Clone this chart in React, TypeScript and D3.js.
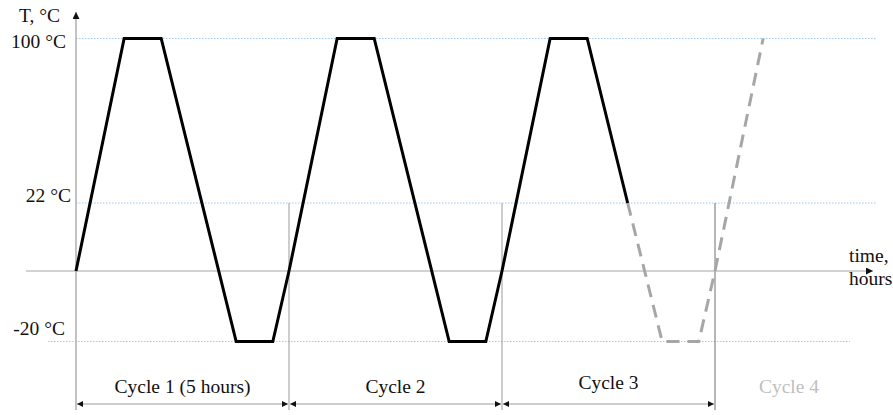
import * as d3 from "d3";

// cycle profile (time in hours, temperature in °C)
const cycleLabels = ["Cycle 1 (5 hours)", "Cycle 2", "Cycle 3", "Cycle 4"];
const cycleStarts = [0, 5, 10, 15];
const cycleLength = 5;

const solidTime = [0, 1.13, 2, 3.76, 4.62, 5, 6.13, 7, 8.76, 9.62, 10, 11.13, 12, 12.95];
const solidTemp = [0, 100, 100, -20, -20, 0, 100, 100, -20, -20, 0, 100, 100, 22];

const dashTime = [12.95, 13.76, 14.62, 15, 16.13];
const dashTemp = [22, -20, -20, 0, 100];

const levelTemps = [100, 22, -20];
const levelLabels = ["100 °C", "22 °C", "-20 °C"];

const W = 893;
const H = 415;
const FONT = "'Liberation Serif', 'Times New Roman', serif";

export default function App() {
	const x = d3.scaleLinear().domain([0, 20]).range([76, 76 + 42.6 * 20]);
	// schematic, piecewise scale
	const y = d3.scaleLinear().domain([-20, 0, 22, 100]).range([341.5, 271, 203, 38.5]);

	const line = d3
		.line<[number, number]>()
		.x((d) => x(d[0]))
		.y((d) => y(d[1]));

	const solid = solidTime.map((t, i) => [t, solidTemp[i]] as [number, number]);
	const dashed = dashTime.map((t, i) => [t, dashTemp[i]] as [number, number]);

	const axisX = x(0);
	const axisY = y(0);
	const arrowY = 404;
	const bottom = 410;

	const gridExtent: Record<number, [number, number]> = {
		100: [axisX, 877],
		22: [axisX, 877],
		[-20]: [48, 850],
	};
	const labelY: Record<number, number> = { 100: 48, 22: 202, [-20]: 335 };
	const labelX: Record<number, number> = { 100: 66, 22: 71, [-20]: 65 };

	return (
		<div style={{ position: "absolute", left: 0, top: 0 }}>
			<svg width={W} height={H} style={{ display: "block", background: "#fff" }}>
				<defs>
					<marker
						id="dim-arrow"
						viewBox="0 0 10 10"
						refX="10"
						refY="5"
						markerWidth="8"
						markerHeight="6"
						markerUnits="userSpaceOnUse"
						orient="auto-start-reverse"
					>
						<path d="M0,0 L10,5 L0,10 Z" fill="#111" />
					</marker>
					<marker
						id="axis-arrow"
						viewBox="0 0 10 10"
						refX="10"
						refY="5"
						markerWidth="9"
						markerHeight="7"
						markerUnits="userSpaceOnUse"
						orient="auto"
					>
						<path d="M0,0 L10,5 L0,10 Z" fill="#111" />
					</marker>
				</defs>

				{/* level lines */}
				{levelTemps.map((t) => (
					<line
						key={`grid-${t}`}
						x1={gridExtent[t][0]}
						x2={gridExtent[t][1]}
						y1={y(t)}
						y2={y(t)}
						stroke="#9ec8ef"
						strokeWidth={1}
						strokeDasharray="1.5,1.5"
					/>
				))}

				{/* cycle boundaries */}
				{cycleStarts.slice(1).map((s) => (
					<line
						key={`bound-${s}`}
						x1={x(s)}
						x2={x(s)}
						y1={y(22)}
						y2={bottom}
						stroke={s === 15 ? "#6e6e6e" : "#9a9a9a"}
						strokeWidth={1}
					/>
				))}

				{/* axes */}
				<line x1={axisX} x2={axisX} y1={bottom} y2={12} stroke="#9a9a9a" strokeWidth={1.2} markerEnd="url(#axis-arrow)" />
				<line x1={26} x2={873} y1={axisY} y2={axisY} stroke="#a6a6a6" strokeWidth={1.2} markerEnd="url(#axis-arrow)" />

				{/* dimension arrows */}
				{cycleStarts.slice(0, 3).map((s) => (
					<line
						key={`dim-${s}`}
						x1={x(s) + 1}
						x2={x(s + cycleLength) - 1}
						y1={arrowY}
						y2={arrowY}
						stroke="#9a9a9a"
						strokeWidth={1}
						markerStart="url(#dim-arrow)"
						markerEnd="url(#dim-arrow)"
					/>
				))}

				{/* temperature profile */}
				<path d={line(dashed) ?? ""} fill="none" stroke="#a6a6a6" strokeWidth={3} strokeDasharray="13,8" />
				<path d={line(solid) ?? ""} fill="none" stroke="#000" strokeWidth={3} strokeLinejoin="miter" />

				{/* text */}
				<g fontFamily={FONT} fontSize={19.5} fill="#111">
					<text x={60} y={22} textAnchor="end">T, °C</text>
					{levelTemps.map((t, i) => (
						<text key={`lab-${t}`} x={labelX[t]} y={labelY[t]} textAnchor="end">
							{levelLabels[i]}
						</text>
					))}
					<text x={849} y={262}>time,</text>
					<text x={849} y={285}>hours</text>
					{cycleLabels.map((c, i) => (
						<text
							key={c}
							x={i === 3 ? 789 : x(cycleStarts[i] + cycleLength / 2)}
							y={i === 2 ? 389 : 393}
							textAnchor="middle"
							fill={i === 3 ? "#bfbfbf" : "#111"}
						>
							{c}
						</text>
					))}
				</g>
			</svg>
		</div>
	);
}
